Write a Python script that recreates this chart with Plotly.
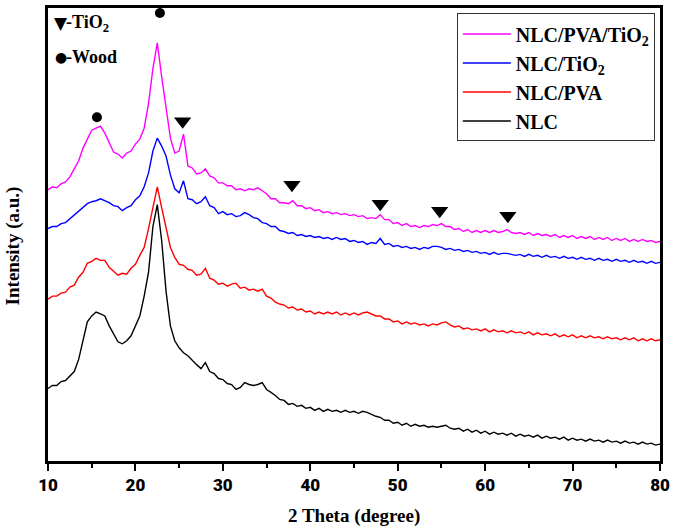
import plotly.graph_objects as go

theta = [10.0, 10.5, 11.0, 11.5, 12.0, 12.5, 13.0, 13.5, 14.0, 14.5, 15.0, 15.5, 16.0, 16.5, 17.0, 17.5, 18.0, 18.5, 19.0, 19.5,
         20.0, 20.5, 21.0, 21.5, 22.0, 22.5, 23.0, 23.5, 24.0, 24.5, 25.0, 25.5, 26.0, 26.5, 27.0, 27.5, 28.0, 28.5, 29.0, 29.5,
         30.0, 30.5, 31.0, 31.5, 32.0, 32.5, 33.0, 33.5, 34.0, 34.5, 35.0, 35.5, 36.0, 36.5, 37.0, 37.5, 38.0, 38.5, 39.0, 39.5,
         40.0, 40.5, 41.0, 41.5, 42.0, 42.5, 43.0, 43.5, 44.0, 44.5, 45.0, 45.5, 46.0, 46.5, 47.0, 47.5, 48.0, 48.5, 49.0, 49.5,
         50.0, 50.5, 51.0, 51.5, 52.0, 52.5, 53.0, 53.5, 54.0, 54.5, 55.0, 55.5, 56.0, 56.5, 57.0, 57.5, 58.0, 58.5, 59.0, 59.5,
         60.0, 60.5, 61.0, 61.5, 62.0, 62.5, 63.0, 63.5, 64.0, 64.5, 65.0, 65.5, 66.0, 66.5, 67.0, 67.5, 68.0, 68.5, 69.0, 69.5,
         70.0, 70.5, 71.0, 71.5, 72.0, 72.5, 73.0, 73.5, 74.0, 74.5, 75.0, 75.5, 76.0, 76.5, 77.0, 77.5, 78.0, 78.5, 79.0, 79.5,
         80.0]

nlc_pva_tio2 = [273, 276, 275, 279, 281, 286, 294, 302, 315, 324, 333, 335, 337, 330, 321, 311, 309, 305, 310, 312,
                319, 324, 335, 360, 395, 421, 387, 357, 325, 310, 312, 329, 297, 295, 289, 290, 294, 287, 285, 280,
                280, 277, 277, 273, 274, 272, 274, 273, 275, 272, 269, 264, 264, 260, 260, 259, 262, 257, 257, 254,
                255, 252, 253, 250, 251, 249, 250, 248, 249, 247, 248, 246, 247, 244, 245, 244, 248, 243, 243, 239,
                240, 237, 239, 236, 237, 235, 237, 236, 238, 237, 239, 236, 236, 233, 234, 231, 233, 230, 232, 230,
                232, 230, 232, 230, 231, 233, 230, 229, 230, 228, 230, 227, 229, 227, 228, 226, 228, 225, 227, 225,
                227, 224, 226, 224, 226, 223, 225, 223, 225, 222, 224, 222, 224, 221, 223, 221, 223, 221, 222, 220,
                221]

nlc_tio2 = [234, 236, 236, 239, 240, 244, 247, 252, 255, 259, 261, 262, 264, 262, 260, 257, 256, 252, 255, 257,
            263, 267, 276, 290, 312, 325, 317, 307, 288, 274, 270, 282, 264, 263, 259, 261, 266, 257, 255, 249,
            251, 248, 249, 246, 247, 250, 248, 245, 244, 240, 239, 236, 236, 232, 231, 229, 230, 227, 228, 226,
            227, 225, 226, 224, 225, 223, 225, 223, 224, 221, 222, 220, 221, 218, 220, 219, 224, 218, 219, 216,
            217, 215, 216, 214, 215, 213, 215, 214, 216, 216, 215, 213, 214, 212, 213, 211, 212, 210, 211, 209,
            210, 208, 210, 208, 209, 209, 208, 207, 208, 206, 208, 206, 207, 205, 207, 205, 206, 204, 206, 204,
            205, 203, 205, 203, 204, 202, 204, 202, 203, 201, 203, 201, 202, 200, 202, 200, 201, 199, 201, 199,
            200]

nlc_pva = [163, 166, 166, 169, 170, 175, 177, 185, 190, 199, 201, 204, 202, 202, 195, 191, 187, 189, 188, 194,
           198, 207, 215, 234, 255, 276, 255, 234, 215, 205, 198, 197, 193, 192, 187, 188, 194, 184, 182, 178,
           179, 176, 178, 179, 174, 175, 172, 173, 171, 173, 166, 164, 160, 158, 157, 154, 155, 152, 153, 150,
           151, 148, 150, 148, 150, 148, 150, 147, 149, 147, 149, 147, 149, 150, 148, 146, 146, 143, 143, 140,
           141, 138, 140, 138, 139, 137, 138, 136, 138, 137, 139, 140, 137, 135, 136, 133, 134, 132, 133, 131,
           133, 130, 132, 130, 131, 129, 131, 129, 130, 128, 130, 127, 129, 127, 128, 126, 128, 125, 127, 125,
           127, 124, 126, 124, 126, 124, 125, 123, 125, 123, 124, 122, 124, 122, 124, 121, 123, 121, 123, 121,
           122]

nlc = [73, 76, 76, 80, 81, 86, 90, 102, 120, 140, 146, 150, 148, 146, 136, 128, 120, 118, 121, 126,
       137, 146, 166, 190, 236, 258, 222, 171, 136, 121, 114, 109, 106, 101, 97, 93, 99, 90, 88, 83,
       82, 78, 77, 72, 74, 79, 77, 76, 77, 79, 72, 69, 66, 62, 61, 57, 58, 55, 56, 53,
       54, 51, 53, 50, 52, 50, 51, 49, 51, 49, 50, 48, 50, 49, 47, 45, 44, 41, 41, 38,
       39, 36, 38, 35, 37, 35, 36, 34, 35, 34, 35, 36, 33, 32, 33, 30, 32, 29, 31, 28,
       30, 27, 29, 27, 28, 26, 28, 25, 27, 25, 26, 24, 26, 23, 25, 23, 24, 22, 24, 21,
       23, 21, 22, 20, 22, 20, 21, 19, 21, 19, 20, 18, 20, 18, 19, 17, 19, 17, 18, 16,
       17]

series_names = ["NLC/PVA/TiO<sub>2</sub>", "NLC/TiO<sub>2</sub>", "NLC/PVA", "NLC"]
series_colors = ["#FF00FF", "#0000FF", "#FF0000", "#000000"]
series_values = [nlc_pva_tio2, nlc_tio2, nlc_pva, nlc]

tio2_theta = [25.4, 37.9, 48.0, 54.8, 62.6]
tio2_level = [342, 278, 259, 252, 247]
wood_theta = [15.6, 22.8]
wood_level = [346, 451]

x_ticks = [10, 20, 30, 40, 50, 60, 70, 80]

fig = go.Figure()
for name, color, vals in zip(series_names, series_colors, series_values):
    fig.add_trace(go.Scatter(x=theta, y=vals, mode="lines", name=name,
                             line=dict(color=color, width=1.4)))

fig.add_trace(go.Scatter(x=tio2_theta, y=tio2_level, mode="markers", showlegend=False,
                         marker=dict(symbol="triangle-down", size=15, color="black")))
fig.add_trace(go.Scatter(x=wood_theta, y=wood_level, mode="markers", showlegend=False,
                         marker=dict(symbol="circle", size=10, color="black")))

serif = "Liberation Serif, Times New Roman, serif"
sans = "Roboto, Liberation Sans, Arial, sans-serif"
glyph = "DejaVu Sans, sans-serif"

fig.update_layout(
    width=675, height=531,
    margin=dict(l=48, r=13, t=5, b=70),
    paper_bgcolor="white", plot_bgcolor="white",
    showlegend=True,
    legend=dict(x=0.668, y=0.988, xanchor="left", yanchor="top",
                bordercolor="#333333", borderwidth=1, bgcolor="white",
                font=dict(family=serif, size=20, color="black", weight="bold"),
                tracegroupgap=0, itemwidth=48),
    xaxis=dict(range=[10, 80], tickvals=x_ticks, ticktext=[str(v) for v in x_ticks],
               showline=True, linecolor="black", linewidth=2.5, mirror=True,
               ticks="outside", ticklen=7, tickwidth=2, tickcolor="black",
               minor=dict(dtick=5, ticks="outside", ticklen=4, tickwidth=2, tickcolor="black"),
               showgrid=False, zeroline=False,
               tickfont=dict(family=sans, size=17, color="black", weight=900)),
    yaxis=dict(range=[0, 456], showline=True, linecolor="black", linewidth=2.5, mirror=True,
               showticklabels=False, ticks="", showgrid=False, zeroline=False),
    annotations=[
        dict(text="<b>2 Theta (degree)</b>", xref="paper", yref="paper", x=0.5, y=-0.1206,
             xanchor="center", yanchor="middle", showarrow=False,
             font=dict(family=serif, size=19, color="black")),
        dict(text="<b>Intensity (a.u.)</b>", xref="paper", yref="paper", x=-0.057, y=0.474,
             xanchor="center", yanchor="middle", showarrow=False, textangle=-90,
             font=dict(family=serif, size=19, color="black")),
        dict(text="▼", xref="paper", yref="paper",
             x=0.006, y=0.967, xanchor="left", yanchor="middle", showarrow=False,
             font=dict(family=glyph, size=17, color="black")),
        dict(text="<b>-TiO<sub>2</sub></b>", xref="paper", yref="paper",
             x=0.026, y=0.966, xanchor="left", yanchor="middle", showarrow=False,
             font=dict(family=serif, size=18, color="black")),
        dict(text="●", xref="paper", yref="paper",
             x=0.008, y=0.892, xanchor="left", yanchor="middle", showarrow=False,
             font=dict(family=glyph, size=14, color="black")),
        dict(text="<b>-Wood</b>", xref="paper", yref="paper",
             x=0.026, y=0.892, xanchor="left", yanchor="middle", showarrow=False,
             font=dict(family=serif, size=18, color="black")),
    ],
)

fig.write_html("out.html", post_script="document.body.style.margin='0';",
               config={"displayModeBar": False})
